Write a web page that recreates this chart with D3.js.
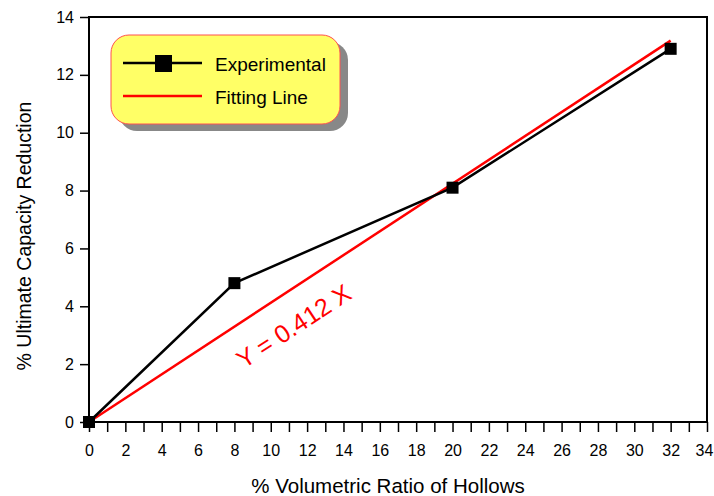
<!DOCTYPE html>
<html>
<head>
<meta charset="utf-8">
<script src="https://cdn.jsdelivr.net/npm/d3@7"></script>
<style>
body { margin: 0; background: #fff; }
text { font-family: "Liberation Sans", Arial, sans-serif; }
</style>
</head>
<body>
<svg width="714" height="496"></svg>
<script>
// Chart data.

var hollowRatio = [0, 8, 20, 32];
var capacityReduction = [0, 4.8, 8.1, 12.9];
var fitSlope = 0.412;
var fitRange = [0, 32];
var xTicks = d3.range(0, 35, 2);
var yTicks = d3.range(0, 15, 2);
var legendLabels = ['Experimental', 'Fitting Line'];

var svg = d3.select('svg');
var margin = {top:17, right:7, bottom:74, left:89};
var width = svg.attr('width') - margin.left - margin.right;
var height = svg.attr('height') - margin.top - margin.bottom;
var graphic = svg.append('g').attr('transform', 'translate(' + margin.left + ',' + margin.top + ')');

var x = d3.scaleLinear().domain([0, 34]).range([0, width]);
var y = d3.scaleLinear().domain([0, 14]).range([height, 0]);

// Frame.

graphic.append('rect')
 .attr('width', width)
 .attr('height', height)
 .attr('fill', 'none')
 .attr('stroke', '#000')
 .attr('stroke-width', 2);

// Axes.

var xAxis = graphic.append('g')
 .attr('transform', 'translate(0,' + height + ')')
 .call(d3.axisBottom(x).ticks(34).tickFormat(function(d) { return xTicks.indexOf(d) >= 0 ? d : ''; })
 .tickSize(10).tickPadding(13));
xAxis.select('.domain').remove();
xAxis.selectAll('line').attr('stroke-width', 1.5);
xAxis.selectAll('text').attr('font-size', 16).attr('font-family', 'Liberation Sans, Arial, sans-serif').attr('fill', '#000');
// last label sits at the right edge, nudge it in a little
xAxis.selectAll('text').filter(function(d) { return d === 34; }).attr('dx', -3);

var yAxis = graphic.append('g')
 .call(d3.axisLeft(y).tickValues(yTicks).tickSize(9).tickPadding(6));
yAxis.select('.domain').remove();
yAxis.selectAll('line').attr('stroke-width', 1.5);
yAxis.selectAll('text').attr('font-size', 16).attr('font-family', 'Liberation Sans, Arial, sans-serif').attr('fill', '#000');

// Axis titles.

svg.append('text')
 .attr('x', 388)
 .attr('y', 493)
 .attr('text-anchor', 'middle')
 .attr('font-size', 20.5)
 .text('% Volumetric Ratio of Hollows');

svg.append('text')
 .attr('transform', 'translate(31,' + 236 + ') rotate(-90)')
 .attr('text-anchor', 'middle')
 .attr('font-size', 19.5)
 .text('% Ultimate Capacity Reduction');

// Fitting line and experimental data.

graphic.append('line')
 .attr('x1', x(fitRange[0])).attr('y1', y(fitSlope * fitRange[0]))
 .attr('x2', x(fitRange[1])).attr('y2', y(fitSlope * fitRange[1]))
 .attr('stroke', '#ff0000')
 .attr('stroke-width', 2.5);

var pts = hollowRatio.map(function(d, i) { return [d, capacityReduction[i]]; });

graphic.append('path')
 .datum(pts)
 .attr('fill', 'none')
 .attr('stroke', '#000')
 .attr('stroke-width', 2.5)
 .attr('d', d3.line().x(function(d) { return x(d[0]); }).y(function(d) { return y(d[1]); }));

graphic.selectAll('.pt')
 .data(pts)
 .enter().append('rect')
 .attr('x', function(d) { return x(d[0]) - 6; })
 .attr('y', function(d) { return y(d[1]) - 6; })
 .attr('width', 12)
 .attr('height', 12)
 .attr('fill', '#000');

// Equation label, rotated along the fit.

var ang = Math.atan2(y(fitSlope * 32) - y(0), x(32) - x(0)) * 180 / Math.PI;
graphic.append('text')
 .attr('transform', 'translate(' + (x(8.5) + 55) + ',' + (y(2.3) - 22) + ') rotate(' + ang + ')')
 .attr('text-anchor', 'middle')
 .attr('font-size', 25)
 .attr('fill', '#ff0000')
 .text('Y = 0.412 X');

// Legend.

var legend = svg.append('g').attr('transform', 'translate(111,35)');

legend.append('rect')
 .attr('x', 8).attr('y', 7)
 .attr('width', 229).attr('height', 89)
 .attr('rx', 18)
 .attr('fill', '#888');

legend.append('rect')
 .attr('width', 229).attr('height', 89)
 .attr('rx', 18)
 .attr('fill', '#ffff66')
 .attr('stroke', '#ff5050')
 .attr('stroke-width', 1);

var items = legend.selectAll('.item')
 .data(legendLabels)
 .enter().append('g')
 .attr('transform', function(d, i) { return 'translate(0,' + (28 + i * 33) + ')'; });

items.append('line')
 .attr('x1', 12).attr('x2', 91)
 .attr('stroke', function(d, i) { return i === 0 ? '#000' : '#ff0000'; })
 .attr('stroke-width', 2.5);

items.filter(function(d, i) { return i === 0; })
 .append('rect')
 .attr('x', 44).attr('y', -8)
 .attr('width', 17).attr('height', 17)
 .attr('fill', '#000');

items.append('text')
 .attr('x', 104)
 .attr('y', 8)
 .attr('font-size', 19)
 .text(function(d) { return d; });
</script>
</body>
</html>
